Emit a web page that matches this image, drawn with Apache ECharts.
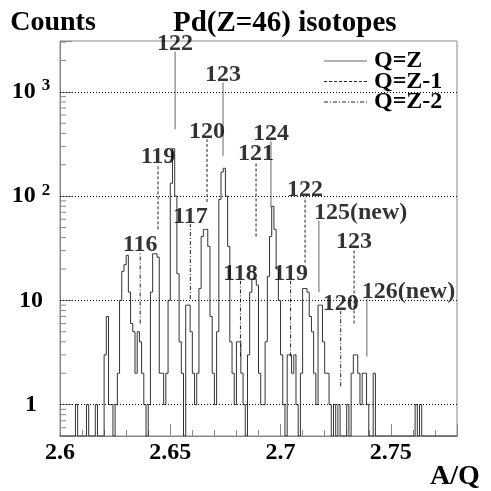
<!DOCTYPE html>
<html style="height: 100%">
<head>
    <meta charset="utf-8">
    <script src="https://cdn.jsdelivr.net/npm/echarts@6.0.0/dist/echarts.min.js"></script>
</head>
<body style="height: 100%; margin: 0">
<div id="container" style="width: 491px; height: 491px"></div>

<script type="text/javascript">
    // histogram, bins of 0.001 in A/Q starting at 2.600
    var binStart = 2.6;
    var binWidth = 0.001;
    var counts = [
        0, 0, 0, 0, 0, 0, 0, 1, 0, 0,          // 2.600
        0, 0, 1, 0, 0, 0, 1, 0, 0, 0,          // 2.610
        3, 7, 1, 1, 0, 1, 2, 10, 19, 22,       // 2.620
        27, 12, 6, 5, 2, 5, 4, 2, 1, 0,        // 2.630
        1, 12, 28, 28, 26, 2, 2, 1, 2, 10,     // 2.640
        133, 285, 100, 18, 4, 2, 0, 9, 9, 5,   // 2.650
        2, 1, 2, 13, 41, 48, 48, 33, 7, 2,     // 2.660
        1, 5, 93, 170, 185, 100, 33, 4, 2, 1,  // 2.670
        4, 4, 2, 1, 0, 3, 12, 16, 16, 14,      // 2.680
        2, 1, 1, 4, 17, 41, 80, 48, 20, 10,    // 2.690
        3, 1, 0, 3, 3, 2, 3, 1, 0, 2,          // 2.700
        13, 13, 12, 7, 5, 2, 1, 9, 9, 4,       // 2.710
        2, 2, 1, 0, 1, 0, 1, 0, 0, 0,          // 2.720
        1, 0, 2, 3, 3, 2, 1, 2, 2, 1,          // 2.730
        0, 0, 2, 0, 0, 0, 0, 0, 0, 0,          // 2.740
        0, 0, 0, 0, 0, 0, 0, 0, 0, 0,          // 2.750
        0, 1, 0, 1, 0, 0, 0, 0, 0, 0,          // 2.760
        0, 0, 0, 0, 0, 0, 0, 0, 0, 0           // 2.770
    ];

    // isotope markers: mass number A, charge Q, line from bottom to top (counts)
    var Z = 46;
    var annotA = [122, 123, 124, 125, 126, 119, 120, 121, 122, 123, 116, 117, 118, 119, 120];
    var annotQ = [46, 46, 46, 46, 46, 45, 45, 45, 45, 45, 44, 44, 44, 44, 44];
    var annotNew = [0, 0, 0, 1, 1, 0, 0, 0, 0, 0, 0, 0, 0, 0, 0];
    var annotTop = [2440, 1230, 336, 58, 10.3, 202, 351, 216, 98, 31, 29, 54, 15.4, 15.4, 7.9];
    var annotBottom = [438, 241, 78, 12, 2.9, 48, 88, 41, 23, 6, 6, 10.3, 2.9, 2.9, 1.5];
    var chargeNames = ['Q=Z', 'Q=Z-1', 'Q=Z-2'];

    var xTicks = [2.6, 2.65, 2.7, 2.75];
    var yGrid = [1, 10, 100, 1000];
    var yMin = 0.5, yMax = 3076;

    var font = 'Liberation Serif';
    var dashes = ['solid', [3, 2], [4, 2, 1, 2]];
    var lineColors = ['#666', '#222', '#222'];

    var dom = document.getElementById("container");
    var myChart = echarts.init(dom);

    var histData = counts.map(function (c, i) {
        return [binStart + i * binWidth, c > 0 ? c : yMin];
    });
    histData.push([binStart + counts.length * binWidth, yMin]);

    // log minor ticks 2..9 per decade, inside the frame
    var yMinor = [];
    [0.1].concat(yGrid).forEach(function (d) {
        for (var m = 2; m <= 9; m++) {
            var v = d * m;
            if (v > yMin && v < yMax) yMinor.push([2.6, v]);
        }
    });

    var series = [{
        type: 'line',
        step: 'end',
        data: histData,
        symbol: 'none',
        lineStyle: {color: '#333', width: 1},
        silent: true,
        animation: false,
        z: 3,
        markLine: {
            silent: true,
            symbol: ['none', 'none'],
            label: {show: false},
            lineStyle: {color: '#000', type: [1, 2], width: 1},
            data: yGrid.map(function (v) { return {yAxis: v}; }),
            animation: false
        }
    }, {
        type: 'custom',
        silent: true,
        animation: false,
        data: yMinor,
        encode: {x: 0, y: 1},
        renderItem: function (params, api) {
            var p = api.coord([api.value(0), api.value(1)]);
            return {
                type: 'line',
                shape: {x1: p[0], y1: p[1], x2: p[0] + 6, y2: p[1]},
                style: {stroke: '#888', lineWidth: 1}
            };
        }
    }];

    annotA.forEach(function (a, i) {
        var k = Z - annotQ[i];
        var x = a / annotQ[i];
        series.push({
            type: 'line',
            data: [[x, annotBottom[i]], [x, annotTop[i]]],
            symbol: 'none',
            silent: true,
            animation: false,
            lineStyle: {color: lineColors[k], type: dashes[k], width: 1},
            z: 4
        });
    });

    series.push({
        type: 'scatter',
        symbolSize: 1,
        itemStyle: {color: 'rgba(0,0,0,0)'},
        silent: true,
        animation: false,
        z: 5,
        label: {
            show: true,
            position: 'top',
            distance: 0,
            offset: [0, 5],
            formatter: '{b}',
            color: '#000',
            fontFamily: font,
            fontWeight: 'bold',
            fontSize: 24
        },
        data: annotA.map(function (a, i) {
            var item = {name: a + (annotNew[i] ? '(new)' : ''), value: [a / annotQ[i], annotTop[i]]};
            if (annotNew[i]) {
                item.label = {align: 'left', offset: [-5, 5]};
            }
            return item;
        })
    });

    // legend drawn by hand, ROOT style
    var legendGraphic = [];
    chargeNames.forEach(function (name, k) {
        var y = 61 + k * 20.5;
        legendGraphic.push({
            type: 'line', silent: true,
            shape: {x1: 324, y1: y, x2: 367, y2: y},
            style: {stroke: lineColors[k], lineWidth: 1, lineDash: dashes[k] === 'solid' ? null : dashes[k]}
        });
        legendGraphic.push({
            type: 'text', silent: true, x: 374, y: y,
            style: {text: name, fill: '#000', font: 'bold 24px "' + font + '"', textVerticalAlign: 'middle'}
        });
    });

    option = {
        animation: false,
        title: {
            text: 'Pd(Z=46) isotopes',
            left: 168,
            top: 4,
            textStyle: {fontFamily: font, fontWeight: 'bold', fontSize: 29, color: '#000'}
        },
        grid: {
            left: 60, right: 34, top: 41, bottom: 54,
            show: true, borderColor: '#888', borderWidth: 1
        },
        xAxis: {
            type: 'value',
            min: 2.6,
            max: 2.78,
            interval: 0.05,
            name: 'A/Q',
            nameLocation: 'end',
            nameGap: -27,
            nameTextStyle: {
                fontFamily: font, fontWeight: 'bold', fontSize: 28, color: '#000',
                align: 'left', verticalAlign: 'top', padding: [27, 0, 0, 0]
            },
            axisLine: {show: true, lineStyle: {color: '#888'}},
            axisTick: {inside: true, length: 12, lineStyle: {color: '#888'}},
            minorTick: {show: true, splitNumber: 5, length: 6, lineStyle: {color: '#888'}},
            splitLine: {show: false},
            axisLabel: {
                showMaxLabel: false,
                margin: 5,
                color: '#000',
                fontFamily: font,
                fontWeight: 'bold',
                fontSize: 24,
                formatter: function (v) {
                    for (var i = 0; i < xTicks.length; i++) {
                        if (Math.abs(v - xTicks[i]) < 1e-6) return String(xTicks[i]);
                    }
                    return '';
                }
            }
        },
        yAxis: {
            type: 'log',
            min: yMin,
            max: yMax,
            name: 'Counts',
            nameLocation: 'end',
            nameGap: 4,
            nameTextStyle: {
                fontFamily: font, fontWeight: 'bold', fontSize: 28, color: '#000',
                align: 'center', verticalAlign: 'bottom', padding: [0, 14, 0, 0]
            },
            axisLine: {show: true, lineStyle: {color: '#888'}},
            axisTick: {inside: true, length: 12, lineStyle: {color: '#888'}},
            splitLine: {show: false},
            axisLabel: {
                margin: 29,
                align: 'center',
                formatter: function (v) {
                    for (var i = 0; i < yGrid.length; i++) {
                        if (Math.abs(v - yGrid[i]) < 1e-6 * yGrid[i]) {
                            if (i === 0) return '{b|1}';
                            if (i === 1) return '{b|10}';
                            return '{b|10}{s|' + i + '}';
                        }
                    }
                    return '';
                },
                rich: {
                    b: {fontFamily: font, fontWeight: 'bold', fontSize: 24, color: '#000'},
                    s: {fontFamily: font, fontWeight: 'bold', fontSize: 17, color: '#000', padding: [0, 0, 12, 6]}
                }
            }
        },
        graphic: legendGraphic,
        series: series
    };

    if (option && typeof option === "object") {
        myChart.setOption(option, true);
    }
</script>
</body>
</html>
